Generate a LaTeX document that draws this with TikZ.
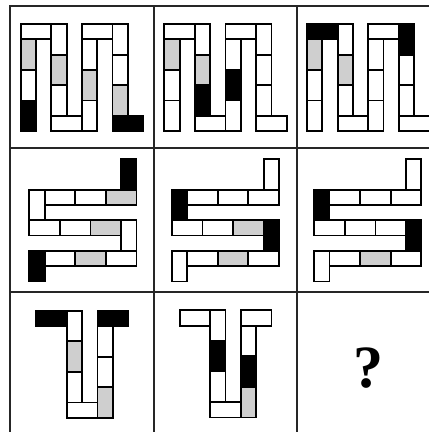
\documentclass[tikz,border=0pt]{standalone}
\usepackage{fontspec}
\setmainfont{Liberation Serif}
\colorlet{W}{white}
\colorlet{G}{black!19}
\colorlet{K}{black}

% snake of blocks, one colour per block along the path
\newcommand{\snakeH}[1]{%
  \foreach \xa/\ya/\xb/\yb [count=\i from 0] in {0/5/1/7, 0/3/1/5, 0/1/1/3, 0/0/2/1,
      2/0/3/2, 2/2/3/4, 2/4/3/6, 2/6/4/7, 4/5/5/7, 4/3/5/5, 4/1/5/3, 4/0/6/1,
      6/0/7/2, 6/2/7/4, 6/4/7/6, 6/6/8/7}{
    \pgfmathsetmacro\fc{{#1}[\i]}
    \draw[blk, fill=\fc] (\xa,\ya) rectangle (\xb,\yb);
  }}
\newcommand{\snakeV}[1]{%
  \foreach \xa/\ya/\xb/\yb [count=\i from 0] in {6/0/7/2, 5/2/7/3, 3/2/5/3, 1/2/3/3,
      0/2/1/4, 0/4/2/5, 2/4/4/5, 4/4/6/5, 6/4/7/6, 5/6/7/7, 3/6/5/7, 1/6/3/7,
      0/6/1/8}{
    \pgfmathsetmacro\fc{{#1}[\i]}
    \draw[blk, fill=\fc] (\xa,\ya) rectangle (\xb,\yb);
  }}
\newcommand{\snakeT}[1]{%
  \foreach \xa/\ya/\xb/\yb [count=\i from 0] in {0/0/2/1, 2/0/3/2, 2/2/3/4, 2/4/3/6,
      2/6/4/7, 4/5/5/7, 4/3/5/5, 4/1/5/3, 4/0/6/1}{
    \pgfmathsetmacro\fc{{#1}[\i]}
    \draw[blk, fill=\fc] (\xa,\ya) rectangle (\xb,\yb);
  }}

\begin{document}
\begin{tikzpicture}[
  x=1pt, y=-1pt,
  grid/.style={draw=black!85, line width=1.8pt},
  blk/.style={draw=black, line width=1.8pt},
  cell/.style={x=15.3pt, y=-15.3pt}]
\useasboundingbox (0,0) rectangle (429,432);
\fill[white] (0,0) rectangle (429,432);

\begin{scope}[shift={(20.7,24)}, cell]
  \snakeH{"K","W","G","W","W","G","W","W","W","G","W","W","W","W","G","K"}
\end{scope}
\begin{scope}[shift={(164.3,24)}, cell]
  \snakeH{"W","W","G","W","W","G","K","W","W","K","W","W","W","W","W","W"}
\end{scope}
\begin{scope}[shift={(307,24)}, cell]
  \snakeH{"W","W","G","K","W","G","W","W","W","W","W","W","K","W","W","W"}
\end{scope}

\begin{scope}[shift={(29.3,159)}, cell]
  \snakeV{"K","G","W","W","W","W","W","G","W","W","G","W","K"}
\end{scope}
\begin{scope}[shift={(171.8,159)}, cell]
  \snakeV{"W","W","W","W","K","W","W","G","K","W","G","W","W"}
\end{scope}
\begin{scope}[shift={(314.2,159)}, cell]
  \snakeV{"W","W","W","W","K","W","W","W","K","W","G","W","W"}
\end{scope}

\begin{scope}[shift={(36.3,310.7)}, cell]
  \snakeT{"K","W","G","W","W","G","W","W","K"}
\end{scope}
\begin{scope}[shift={(179.6,310.3)}, cell]
  \snakeT{"W","W","K","W","W","G","K","W","W"}
\end{scope}

\node[font=\fontsize{60}{60}\selectfont\bfseries, inner sep=0pt] (qm) at (368.7,368.3) {?};

\draw[grid] (10.3,6) rectangle (439.5,435);
\draw[grid] (154,6) -- (154,435) (296.7,6) -- (296.7,435);
\draw[grid] (10.3,148.3) -- (439.5,148.3) (10.3,291.8) -- (439.5,291.8);
\end{tikzpicture}
\end{document}
